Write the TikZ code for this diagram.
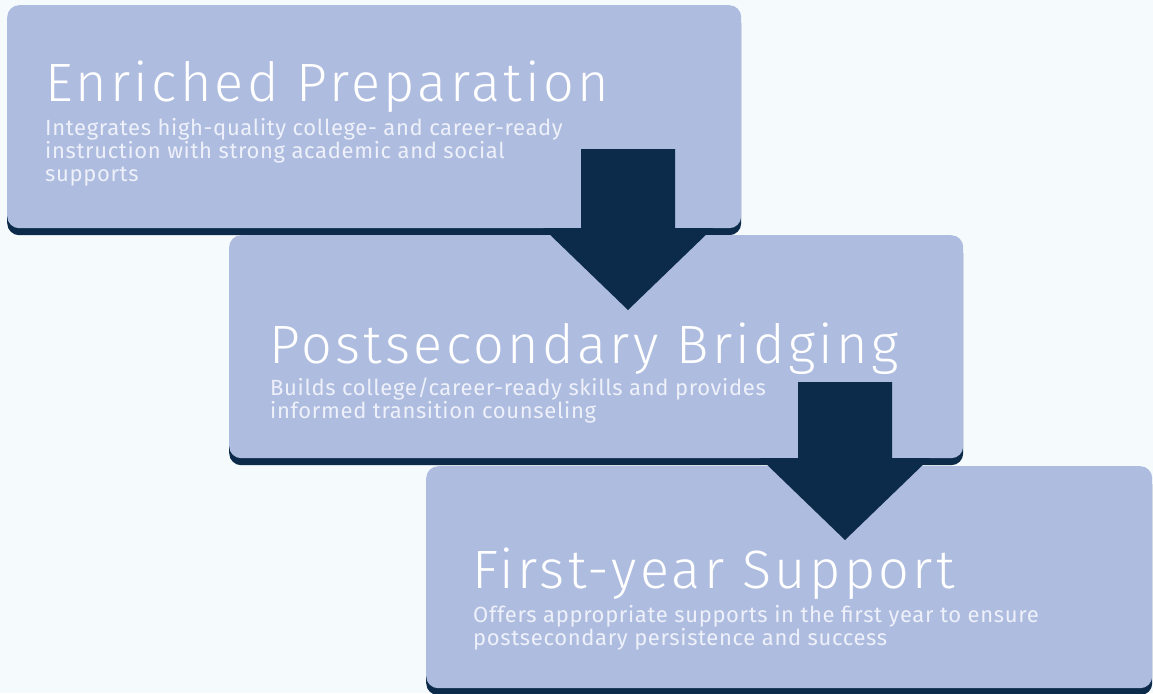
\documentclass[tikz,border=0pt]{standalone}
\usepackage{fontspec}
\usepackage{xcolor}
\usepackage{tikz}
\usetikzlibrary{shadows}
\setmainfont{Fira Sans}
\newfontfamily\headfont{Fira Sans}[UprightFont={* Light},LetterSpace=6]
\newfontfamily\bodyfont{Fira Sans}[LetterSpace=3]

\definecolor{bgblue}{HTML}{F5FAFD}
\definecolor{stageblue}{HTML}{AEBCDF}
\definecolor{navy}{HTML}{0C2A4A}
\definecolor{paletext}{HTML}{EEF1FA}

\tikzset{
  stage/.style={fill=stageblue, rounded corners=12pt, anchor=north west, inner sep=0pt,
    general shadow={fill=navy, shadow yshift=-7pt}},
  stagetitle/.style={anchor=base west, inner sep=0pt, text=white, font=\headfont\fontsize{54}{60}\selectfont},
  stagetext/.style={anchor=base west, inner sep=0pt, text=paletext, align=left,
    font=\bodyfont\fontsize{22}{23}\selectfont},
}

% block arrow pointing down: #1 = top of shaft, #2 = shaft length
\newcommand\downblock[2]{
  \fill[navy] (#1) ++(-47,0) -- ++(0,#2) -- ++(-38,0) -- ++(85,82) -- ++(85,-82) -- ++(-38,0) -- ++(0,-#2) -- cycle;
}

\begin{document}
\begin{tikzpicture}[x=1pt,y=1pt,yscale=-1]
  \useasboundingbox[fill=bgblue] (0,0) rectangle (1153,693);

  %Stages
  \node[stage, minimum width=734pt, minimum height=223pt] (prep) at (7,5) {};
  \node[stage, minimum width=734pt, minimum height=223pt] (bridge) at (229,235) {};
  \node[stage, minimum width=726pt, minimum height=222pt] (support) at (426,466) {};

  %Arrows
  \coordinate (arrow1) at (628,149);
  \coordinate (arrow2) at (845,382);
  \downblock{arrow1}{79}
  \downblock{arrow2}{76}

  % Text Nodes (base = last line)
  \node[stagetitle] (prep title) at (45,101) {Enriched Preparation};
  \node[stagetext] (prep text) at (45,181) {Integrates high-quality college- and career-ready\\instruction with strong academic and social\\supports};

  \node[stagetitle] (bridge title) at (269,363) {Postsecondary Bridging};
  \node[stagetext] (bridge text) at (270,418) {Builds college/career-ready skills and provides\\informed transition counseling};

  \node[stagetitle] (support title) at (472,588) {First-year Support};
  \node[stagetext] (support text) at (473,645) {Offers appropriate supports in the first year to ensure\\postsecondary persistence and success};
\end{tikzpicture}
\end{document}
